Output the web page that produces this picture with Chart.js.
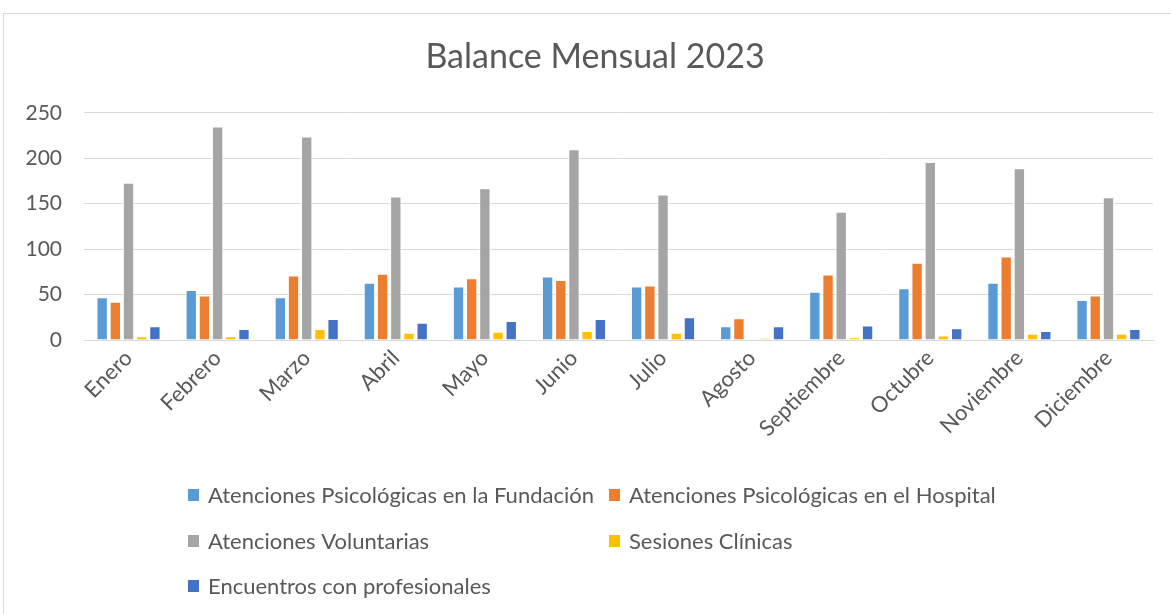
<!DOCTYPE html>
<html>
<head>
<meta charset="utf-8">
<script src="https://cdn.jsdelivr.net/npm/chart.js@4.4.0/dist/chart.umd.min.js"></script>
<style>
    html, body { margin: 0; padding: 0; background: #fff; }
    #frame {
        position: absolute; left: 3px; top: 13px; width: 1175px; height: 610px;
        border: 1px solid #d9d9d9; box-sizing: border-box;
    }
    #wrap { position: absolute; left: 0; top: 0; width: 1171px; height: 614px; }
</style>
</head>
<body>
<div id="frame"></div>
<div id="wrap"><canvas id="balanceChart"></canvas></div>
<script>
const months = ['Enero', 'Febrero', 'Marzo', 'Abril', 'Mayo', 'Junio', 'Julio',
    'Agosto', 'Septiembre', 'Octubre', 'Noviembre', 'Diciembre'];

const fundacion     = [47, 55, 47, 63, 59, 70, 59, 15, 53, 57, 63, 44];
const hospital      = [42, 49, 71, 73, 68, 66, 60, 24, 72, 85, 92, 49];
const voluntarias   = [173, 235, 224, 158, 167, 210, 160, 0, 141, 196, 189, 157];
const sesiones      = [4, 4, 12, 8, 9, 10, 8, 2, 3, 5, 7, 7];
const encuentros    = [15, 12, 23, 19, 21, 23, 25, 15, 16, 13, 10, 12];

const seriesNames = [
    'Atenciones Psicológicas en la Fundación',
    'Atenciones Psicológicas en el Hospital',
    'Atenciones Voluntarias',
    'Sesiones Clínicas',
    'Encuentros con profesionales'
];
const seriesColors = ['#5b9bd5', '#ed7d31', '#a5a5a5', '#ffc000', '#4472c4'];
const yTicks = [0, 50, 100, 150, 200, 250];

const FONT = "Lato, 'Open Sans', sans-serif";
const TEXT_COLOR = '#595959';

// legend drawn as a two column grid like the spreadsheet one
const gridLegend = {
    id: 'gridLegend',
    afterLayout(chart) {
        // title is centred on the whole frame, not on the canvas minus padding
        if (chart.titleBlock) chart.titleBlock.left = 37;
    },
    afterDraw(chart) {
        const ctx = chart.ctx;
        const cols = [188, 609];
        const rows = [495, 541, 586];
        ctx.save();
        ctx.font = '22px ' + FONT;
        ctx.textBaseline = 'middle';
        chart.data.datasets.forEach((ds, i) => {
            const x = cols[i % 2];
            const y = rows[Math.floor(i / 2)];
            ctx.fillStyle = ds.backgroundColor;
            ctx.fillRect(x, y - 6, 11, 12);
            ctx.fillStyle = TEXT_COLOR;
            ctx.fillText(ds.label, x + 20, y + 1);
        });
        ctx.restore();
    }
};

const ctx = document.getElementById('balanceChart').getContext('2d');
const balanceChart = new Chart(ctx, {
    type: 'bar',
    data: {
        labels: months,
        datasets: [fundacion, hospital, voluntarias, sesiones, encuentros].map((values, i) => ({
            label: seriesNames[i],
            data: values,
            backgroundColor: seriesColors[i],
            borderColor: '#ffffff',
            borderWidth: 1,
            barPercentage: 0.86,
            categoryPercentage: 0.74
        }))
    },
    options: {
        responsive: true,
        maintainAspectRatio: false,
        animation: false,
        layout: { padding: { top: 37, right: 18, bottom: 124, left: 0 } },
        plugins: {
            legend: { display: false },
            tooltip: { enabled: false },
            title: {
                display: true,
                text: 'Balance Mensual 2023',
                color: TEXT_COLOR,
                font: { family: FONT, size: 34, weight: 'normal' },
                padding: { top: 0, bottom: 35 }
            }
        },
        scales: {
            x: {
                afterFit: (scale) => { scale.height = 150; },
                grid: { display: false, drawTicks: false },
                border: { color: '#d9d9d9' },
                ticks: {
                    color: TEXT_COLOR,
                    font: { family: FONT, size: 22 },
                    minRotation: 45,
                    maxRotation: 45,
                    padding: 5
                }
            },
            y: {
                min: 0,
                max: 250,
                afterFit: (scale) => { scale.width = 84; },
                afterBuildTicks: (scale) => { scale.ticks = yTicks.map(v => ({ value: v })); },
                grid: { color: '#d9d9d9', drawTicks: false },
                border: { display: false },
                ticks: {
                    color: TEXT_COLOR,
                    font: { family: FONT, size: 21 },
                    padding: 22
                }
            }
        }
    },
    plugins: [gridLegend]
});
</script>
</body>
</html>
